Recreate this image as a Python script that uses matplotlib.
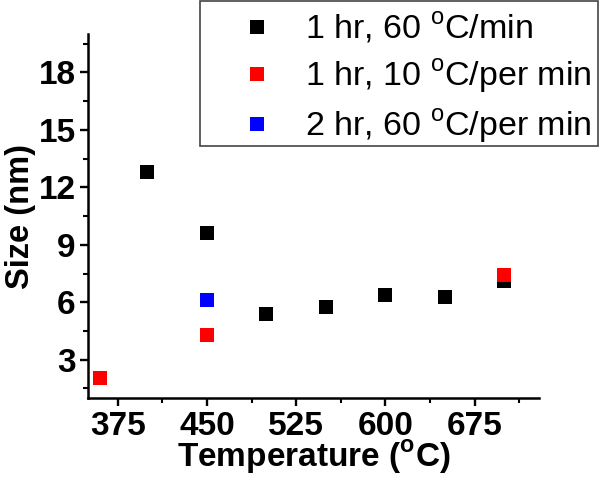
import matplotlib
matplotlib.use('Agg')
import matplotlib.pyplot as plt
from matplotlib.patches import Rectangle
from matplotlib.ticker import MultipleLocator

plt.rcParams['font.family'] = ['Liberation Sans', 'DejaVu Sans']
plt.rcParams['mathtext.fontset'] = 'custom'
plt.rcParams['mathtext.rm'] = 'Liberation Sans'
plt.rcParams['mathtext.bf'] = 'Liberation Sans:bold'

# Series
temp_1hr_60 = [400, 450, 500, 550, 600, 650, 700]
size_1hr_60 = [12.8, 9.6, 5.4, 5.75, 6.37, 6.3, 7.1]

temp_1hr_10 = [360, 450, 700]
size_1hr_10 = [2.05, 4.3, 7.4]

temp_2hr_60 = [450]
size_2hr_60 = [6.1]

labels = [r'1 hr, 60 $^{\mathrm{o}}$C/min',
          r'1 hr, 10 $^{\mathrm{o}}$C/per min',
          r'2 hr, 60 $^{\mathrm{o}}$C/per min']

W, H = 600, 479
fig = plt.figure(figsize=(6, 4.79), dpi=100)
ax = fig.add_axes([0.1467, 0.169, 0.898 - 0.1467, 0.929 - 0.169])

ms = 9.5
h1, = ax.plot(temp_1hr_60, size_1hr_60, 's', color='black', ms=ms, mew=0)
h2, = ax.plot(temp_1hr_10, size_1hr_10, 's', color='red', ms=ms, mew=0)
h3, = ax.plot(temp_2hr_60, size_2hr_60, 's', color='blue', ms=ms, mew=0)

ax.set_xlim(350, 729)
ax.set_ylim(1, 20)
ax.set_xticks([375, 450, 525, 600, 675])
ax.xaxis.set_minor_locator(MultipleLocator(37.5))
ax.set_yticks([3, 6, 9, 12, 15, 18])
ax.yaxis.set_minor_locator(MultipleLocator(1.5))

for s in ['top', 'right']:
    ax.spines[s].set_visible(False)
for s in ['left', 'bottom']:
    ax.spines[s].set_linewidth(1.8)

ax.tick_params(which='major', direction='out', length=6, width=1.7,
               labelsize=24, pad=3)
ax.tick_params(which='minor', direction='out', length=3.5, width=1.5)
for lab in ax.get_xticklabels() + ax.get_yticklabels():
    lab.set_fontweight('bold')

ax.set_xlabel(r'Temperature ($^{\mathbf{o}}$C)', fontsize=24,
              fontweight='bold', labelpad=-2)
ax.set_ylabel('Size (nm)', fontsize=23.5, fontweight='bold', labelpad=2)

# legend entries without frame; frame drawn as a box reaching the top edge
leg = fig.legend([h1, h2, h3], labels, loc='upper right',
                 bbox_to_anchor=(598 / W, 1 - 4 / H),
                 fontsize=24.5, frameon=False, handletextpad=0.0,
                 labelspacing=0.36, borderpad=0.2, handlelength=2.82,
                 borderaxespad=0)
fig.patches.append(Rectangle((200 / W, 1 - 146 / H), 398 / W, 145 / H,
                             transform=fig.transFigure, fill=False,
                             edgecolor='#444444', linewidth=1.2))

fig.savefig('out.png', dpi=100)
